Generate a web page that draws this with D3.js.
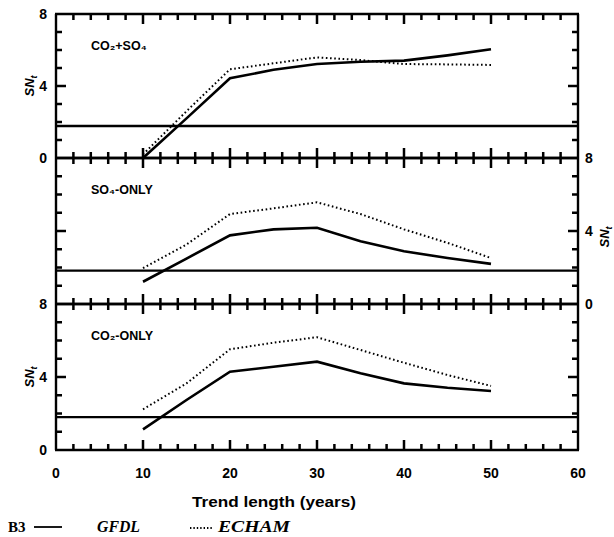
<!DOCTYPE html>
<html><head><meta charset="utf-8">
<script src="https://cdn.jsdelivr.net/npm/d3@7"></script>
<style>
body{margin:0;background:#fff;}
svg{display:block;}
</style></head>
<body>
<script>
// ---- data ----
const years = [10,15,20,25,30,35,40,45,50];
const panelNames = ["CO\u2082+SO\u2084", "SO\u2084-ONLY", "CO\u2082-ONLY"];
const gfdlTop = [0, 2.2, 4.43, 4.9, 5.22, 5.35, 5.41, 5.7, 6.04];
const echamTop = [0.2, 2.6, 4.93, 5.26, 5.59, 5.44, 5.22, 5.2, 5.17];
const gfdlMid = [1.22, 2.49, 3.76, 4.09, 4.18, 3.44, 2.89, 2.52, 2.2];
const echamMid = [1.96, 3.26, 4.93, 5.24, 5.57, 4.93, 4.09, 3.35, 2.52];
const gfdlBot = [1.13, 2.74, 4.29, 4.56, 4.84, 4.2, 3.65, 3.41, 3.23];
const echamBot = [2.23, 3.65, 5.52, 5.88, 6.18, 5.48, 4.78, 4.11, 3.51];
const thresholds = [1.78, 1.83, 1.8];
const xTickLabels = [0,10,20,30,40,50,60];
const yTickLabels = [0,4,8];
const legendNames = ["GFDL","ECHAM"];
const figLabel = "B3";

// ---- layout ----
const W = 614, H = 537;
const plotL = 56, plotR = 578;
const panelTops = [14, 158, 304];
const panelBots = [158, 304, 450];
const labelSide = ["left","right","left"];
const gfdl = [gfdlTop, gfdlMid, gfdlBot];
const echam = [echamTop, echamMid, echamBot];
const sans = "'Liberation Sans',Arial,sans-serif";
const serif = "'Liberation Serif',serif";

const svg = d3.select("body").append("svg").attr("width", W).attr("height", H);
const x = d3.scaleLinear().domain([0,60]).range([plotL, plotR]);
const yScales = panelTops.map((t, i) => d3.scaleLinear().domain([0,8]).range([panelBots[i], t]));

const xTickVals = d3.range(2, 60, 2);
const yTickVals = d3.range(1, 8, 1);
const minL = 6, majL = 10;

// ---- ticks first, directly on the svg ----
const xTickData = [];
const yTickData = [];
panelTops.forEach((pTop, i) => {
  xTickVals.forEach(v => {
    xTickData.push({v: v, y0: panelBots[i], dir: -1});
    xTickData.push({v: v, y0: pTop, dir: 1});
  });
  yTickVals.forEach(v => {
    yTickData.push({v: v, i: i, x0: plotL, dir: 1});
    yTickData.push({v: v, i: i, x0: plotR, dir: -1});
  });
});
svg.selectAll(null).data(xTickData).join("line")
  .attr("x1", d => x(d.v)).attr("x2", d => x(d.v))
  .attr("y1", d => d.y0).attr("y2", d => d.y0 + d.dir * (d.v % 10 === 0 ? majL : minL))
  .attr("stroke", "#000").attr("stroke-width", 2.5);
svg.selectAll(null).data(yTickData).join("line")
  .attr("y1", d => yScales[d.i](d.v)).attr("y2", d => yScales[d.i](d.v))
  .attr("x1", d => d.x0).attr("x2", d => d.x0 + d.dir * (d.v % 4 === 0 ? majL : minL))
  .attr("stroke", "#000").attr("stroke-width", 2.5);

for (let i = 0; i < 3; i++) {
  const pTop = panelTops[i], pBot = panelBots[i];
  const y = yScales[i];
  const g = svg.append("g");

  // frame
  g.append("line").attr("x1", plotL).attr("x2", plotL).attr("y1", pTop).attr("y2", pBot)
    .attr("stroke", "#000").attr("stroke-width", 2.4);
  g.append("line").attr("x1", plotR).attr("x2", plotR).attr("y1", pTop).attr("y2", pBot)
    .attr("stroke", "#000").attr("stroke-width", 2.4);
  g.append("line").attr("x1", plotL - 1).attr("x2", plotR + 1).attr("y1", pTop).attr("y2", pTop)
    .attr("stroke", "#000").attr("stroke-width", 2.6);
  g.append("line").attr("x1", plotL - 1).attr("x2", plotR + 1).attr("y1", pBot).attr("y2", pBot)
    .attr("stroke", "#000").attr("stroke-width", 2.6);

  // threshold line
  g.append("line").attr("x1", plotL).attr("x2", plotR)
    .attr("y1", y(thresholds[i])).attr("y2", y(thresholds[i]))
    .attr("stroke", "#000").attr("stroke-width", 2.4);

  const line = d3.line().x((d, k) => x(years[k])).y(d => y(d));
  g.append("path").datum(echam[i]).attr("d", line).attr("fill", "none")
    .attr("stroke", "#000").attr("stroke-width", 2).attr("stroke-dasharray", "1.6,2.6");
  g.append("path").datum(gfdl[i]).attr("d", line).attr("fill", "none")
    .attr("stroke", "#000").attr("stroke-width", 2.6);

  const isLeft = labelSide[i] === "left";
  g.selectAll(null).data(yTickLabels).join("text")
    .attr("x", isLeft ? plotL - 9 : plotR + 7).attr("y", d => y(d)).attr("dy", "0.36em")
    .attr("text-anchor", isLeft ? "end" : "start")
    .attr("font-family", sans).attr("font-size", 14).attr("font-weight", "bold").text(d => d);

  if (i === 2) {
    g.selectAll(null).data(xTickLabels).join("text")
      .attr("x", d => x(d)).attr("y", pBot + 28)
      .attr("text-anchor", "middle").attr("font-family", sans)
      .attr("font-size", 14).attr("font-weight", "bold")
      .text(d => d);
  }

  g.append("text").attr("x", 91).attr("y", pTop + 36).attr("font-family", sans)
    .attr("font-size", 12.5).attr("font-weight", "bold").text(panelNames[i]);

  const tx = isLeft ? 34 : 609;
  const ty = (pTop + pBot) / 2 + (isLeft ? 0 : 6);
  const t = g.append("text").attr("transform", `translate(${tx},${ty}) rotate(-90)`)
    .attr("text-anchor", "middle").attr("font-family", sans)
    .attr("font-size", 13).attr("font-weight", "bold").attr("font-style", "italic");
  t.append("tspan").text("SN");
  t.append("tspan").attr("font-size", 9).attr("dy", 3).text("t");
}

// x title
svg.append("text").attr("x", 274).attr("y", 507).attr("text-anchor", "middle")
  .attr("font-family", sans).attr("font-size", 15).attr("font-weight", "bold")
  .attr("textLength", 164).attr("lengthAdjust", "spacingAndGlyphs")
  .text("Trend length (years)");

// legend
const ly = 527;
svg.append("text").attr("x", 8).attr("y", ly + 5).attr("font-size", 15).attr("font-weight", "bold")
  .attr("font-family", serif).text(figLabel);
svg.append("line").attr("x1", 34).attr("x2", 62).attr("y1", ly).attr("y2", ly)
  .attr("stroke", "#000").attr("stroke-width", 1.8);
svg.append("text").attr("x", 97).attr("y", ly + 5).attr("font-size", 16).attr("font-weight", "bold")
  .attr("font-style", "italic").attr("font-family", serif)
  .attr("textLength", 43).attr("lengthAdjust", "spacingAndGlyphs").text(legendNames[0]);
svg.append("line").attr("x1", 190).attr("x2", 213).attr("y1", ly + 1).attr("y2", ly + 1)
  .attr("stroke", "#000").attr("stroke-width", 1.8).attr("stroke-dasharray", "1.4,2");
svg.append("text").attr("x", 218).attr("y", ly + 5).attr("font-size", 16).attr("font-weight", "bold")
  .attr("font-style", "italic").attr("font-family", serif)
  .attr("textLength", 72).attr("lengthAdjust", "spacingAndGlyphs").text(legendNames[1]);
</script>
</body></html>
